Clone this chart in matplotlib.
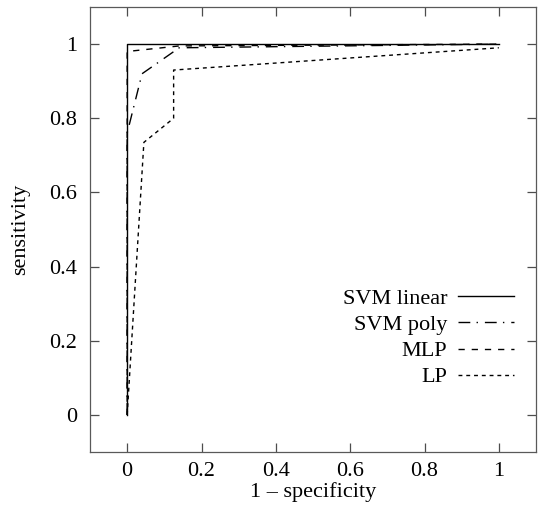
import numpy as np
import matplotlib
matplotlib.use("Agg")
import matplotlib.pyplot as plt

# ROC points (1 - specificity, sensitivity)
svm_lin_x = [0.0, 0.0, 1.0]
svm_lin_y = [0.0, 1.0, 1.0]
svm_poly_x = [0.0, 0.0, 0.04, 0.14, 1.0]
svm_poly_y = [0.0, 0.76, 0.92, 0.99, 1.0]
mlp_x = [0.0, 0.0, 0.14, 1.0]
mlp_y = [0.0, 0.98, 0.995, 1.0]
lp_x = [0.0, 0.045, 0.125, 0.125, 1.0]
lp_y = [0.0, 0.735, 0.80, 0.93, 0.99]

labels = ["SVM linear", "SVM poly", "MLP", "LP"]
ticks = [0, 0.2, 0.4, 0.6, 0.8, 1]
ticklabels = ["0", "0.2", "0.4", "0.6", "0.8", "1"]

plt.rcParams['font.family'] = ['Liberation Serif', 'DejaVu Serif']
fontsize = 16

fig = plt.figure(figsize=(5.38, 5.12), dpi=100)
ax = fig.add_axes([90/538, 60/512, 446/538, 445/512])

lw = 1.0
ax.plot(svm_lin_x, svm_lin_y, c='k', lw=lw, label=labels[0])
ax.plot(svm_poly_x, svm_poly_y, c='k', lw=lw, dashes=(8.5, 4.5, 1, 5), label=labels[1])
ax.plot(mlp_x, mlp_y, c='k', lw=lw, dashes=(4.5, 5), label=labels[2])
ax.plot(lp_x, lp_y, c='k', lw=lw, dashes=(2.8, 2.8), label=labels[3])

ax.set_xlim(-0.1, 1.1)
ax.set_ylim(-0.1, 1.1)
ax.set_xticks(ticks)
ax.set_xticklabels(ticklabels, fontsize=fontsize)
ax.set_yticks(ticks)
ax.set_yticklabels(ticklabels, fontsize=fontsize)
ax.tick_params(direction='in', length=6.5, width=0.9, color='0.3',
               top=True, right=True)
ax.tick_params(axis='x', pad=7)
ax.tick_params(axis='y', pad=9)
for s in ax.spines.values():
    s.set_color('0.35')
    s.set_linewidth(0.9)
ax.set_xlabel("1 \u2013 specificity", fontsize=fontsize, labelpad=1)
ax.set_ylabel("sensitivity", fontsize=fontsize, labelpad=14)

leg = ax.legend(loc='lower right', bbox_to_anchor=(0.975, 0.12), frameon=False,
                markerfirst=False, fontsize=fontsize, handlelength=2.5,
                handletextpad=0.5, labelspacing=0.25, borderpad=0)

plt.savefig("out.png", dpi=100)
